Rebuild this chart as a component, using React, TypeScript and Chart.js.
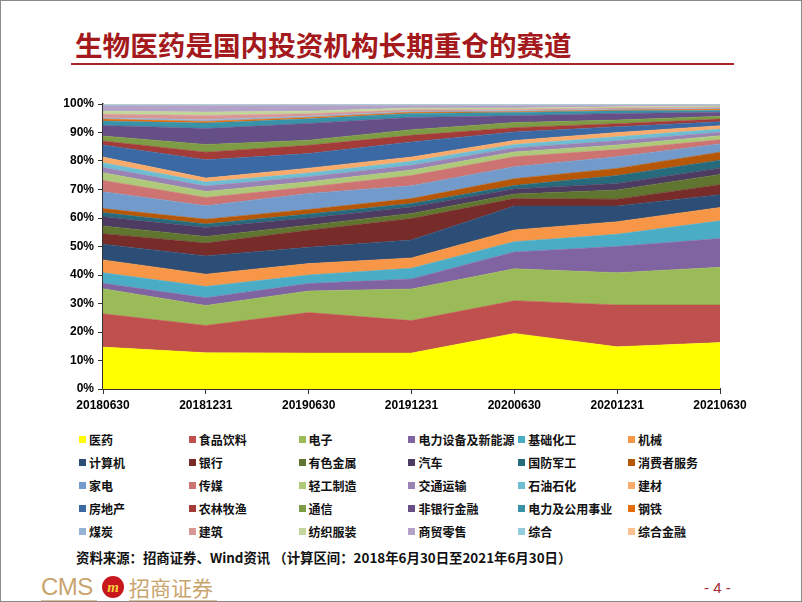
import React, { useEffect, useRef } from "react";
import { Chart, registerables } from "chart.js";

Chart.register(...registerables);

// Category labels (report dates)
const dates = ["20180630", "20181231", "20190630", "20191231", "20200630", "20201231", "20210630"];

// Share of holdings by industry (%), one array per industry, in stacking order
const yiyao = [14.7, 12.7, 12.6, 12.6, 19.5, 14.8, 16.3];
const shipinyinliao = [11.7, 9.6, 14.2, 11.4, 11.5, 14.7, 13.2];
const dianzi = [8.8, 7.0, 7.6, 11.1, 11.2, 11.3, 13.2];
const dianlishebei = [1.9, 2.7, 2.6, 3.5, 5.9, 9.2, 10.1];
const jichuhuagong = [3.7, 4.0, 3.0, 3.8, 3.6, 4.3, 6.2];
const jixie = [4.5, 4.3, 4.0, 3.6, 4.1, 4.4, 4.7];
const jisuanji = [5.5, 6.4, 5.7, 6.3, 8.4, 5.5, 4.5];
const yinhang = [3.7, 4.5, 6.0, 7.5, 2.6, 2.4, 3.5];
const youse = [2.7, 2.3, 1.8, 1.8, 1.6, 3.2, 3.6];
const qiche = [3.2, 3.2, 2.5, 2.3, 1.8, 2.3, 2.2];
const guofang = [1.5, 1.2, 1.4, 1.2, 1.2, 2.8, 2.8];
const xiaofeizhe = [1.4, 1.7, 1.6, 1.7, 2.4, 2.5, 2.8];
const jiadian = [5.9, 4.7, 5.6, 4.5, 4.2, 4.1, 2.9];
const chuanmei = [4.0, 2.9, 2.3, 3.6, 3.5, 2.5, 1.5];
const qinggong = [2.7, 2.1, 1.8, 1.9, 1.7, 1.6, 1.4];
const jiaotong = [1.8, 1.9, 1.8, 1.7, 1.4, 1.5, 1.2];
const shiyou = [1.7, 1.4, 1.3, 1.4, 1.2, 1.4, 1.1];
const jiancai = [2.0, 1.4, 1.7, 1.5, 1.4, 1.5, 1.2];
const fangdichan = [4.2, 6.4, 5.1, 5.3, 3.0, 2.0, 1.4];
const nonglin = [1.4, 2.7, 2.9, 2.3, 1.5, 1.1, 0.9];
const tongxin = [1.8, 2.7, 1.8, 2.0, 1.8, 1.3, 1.0];
const feiyin = [3.7, 5.6, 5.9, 4.3, 2.4, 2.3, 1.4];
const gongyong = [1.5, 1.9, 1.6, 1.4, 1.1, 0.9, 0.6];
const gangtie = [0.7, 0.6, 0.5, 0.4, 0.3, 0.3, 0.5];
const meitan = [0.5, 0.6, 0.5, 0.4, 0.4, 0.3, 0.4];
const jianzhu = [1.2, 1.5, 0.8, 0.5, 0.4, 0.4, 0.3];
const fangzhi = [1.1, 1.2, 0.9, 0.6, 0.5, 0.4, 0.4];
const shangmao = [2.0, 2.3, 2.1, 1.0, 0.9, 0.6, 0.3];
const zonghe = [0.3, 0.3, 0.2, 0.2, 0.3, 0.2, 0.2];
const zonghejinrong = [0.2, 0.2, 0.2, 0.2, 0.2, 0.2, 0.2];

const industryNames = [
  "医药", "食品饮料", "电子", "电力设备及新能源", "基础化工", "机械",
  "计算机", "银行", "有色金属", "汽车", "国防军工", "消费者服务",
  "家电", "传媒", "轻工制造", "交通运输", "石油石化", "建材",
  "房地产", "农林牧渔", "通信", "非银行金融", "电力及公用事业", "钢铁",
  "煤炭", "建筑", "纺织服装", "商贸零售", "综合", "综合金融",
];

const industryValues = [
  yiyao, shipinyinliao, dianzi, dianlishebei, jichuhuagong, jixie,
  jisuanji, yinhang, youse, qiche, guofang, xiaofeizhe,
  jiadian, chuanmei, qinggong, jiaotong, shiyou, jiancai,
  fangdichan, nonglin, tongxin, feiyin, gongyong, gangtie,
  meitan, jianzhu, fangzhi, shangmao, zonghe, zonghejinrong,
];

const palette = [
  "#FFFF00", "#C0504D", "#9BBB59", "#8064A2", "#4BACC6", "#F79646",
  "#2C4D75", "#772C2A", "#5F7530", "#4D3B62", "#276A7C", "#B65708",
  "#729ACA", "#CD7371", "#AFC97A", "#9983B5", "#6FBDD1", "#F9AB6B",
  "#3A69A3", "#A33B38", "#7E9B45", "#654F86", "#3892A8", "#E46C0A",
  "#95B3D7", "#D99694", "#C3D69B", "#B3A2C7", "#93CDDD", "#FAC090",
];

const yTicks = [0, 10, 20, 30, 40, 50, 60, 70, 80, 90, 100];

const tickFont = { family: "'Liberation Sans', Arial, sans-serif", size: 12, weight: "bold" as const };

export default function App() {
  const ref = useRef<HTMLCanvasElement | null>(null);

  useEffect(() => {
    document.body.style.margin = "0";
    document.body.style.overflow = "hidden";
    const datasets = industryNames.map((name, i) => ({
      label: name,
      data: industryValues[i],
      backgroundColor: palette[i],
      borderColor: palette[i],
      borderWidth: 0.5,
      pointRadius: 0,
      pointHoverRadius: 0,
      tension: 0,
      fill: i === 0 ? "origin" : "-1",
    }));
    const chart = new Chart(ref.current as HTMLCanvasElement, {
      type: "line",
      data: { labels: dates, datasets: datasets as any },
      options: {
        animation: false,
        responsive: false,
        devicePixelRatio: 1,
        layout: { padding: { top: 13, right: 41, left: 0, bottom: 0 } },
        plugins: { legend: { display: false }, tooltip: { enabled: false } },
        scales: {
          x: {
            offset: false,
            grid: { display: true, drawOnChartArea: false, tickLength: 5, color: "#333", offset: false },
            border: { display: true, color: "#333", width: 2 },
            ticks: { color: "#000", font: tickFont, padding: 4, maxRotation: 0, autoSkip: false },
            afterFit: (s: any) => { s.height = 32; },
          },
          y: {
            stacked: true,
            min: 0,
            max: 100,
            afterBuildTicks: (s: any) => { s.ticks = yTicks.map((v) => ({ value: v })); },
            grid: { display: true, drawOnChartArea: false, tickLength: 5, color: "#333" },
            border: { display: true, color: "#333", width: 1.5 },
            ticks: { color: "#000", font: tickFont, padding: 4, callback: (v: any) => v + "%" },
            afterFit: (s: any) => { s.width = 52; },
          },
        },
      },
    });
    return () => chart.destroy();
  }, []);

  const cjk = "'Noto Sans CJK SC', 'Noto Sans', sans-serif";

  return (
    <div
      style={{
        position: "absolute", left: 0, top: 0, width: 802, height: 602,
        boxSizing: "border-box", border: "1px solid #8a8a8a", background: "#fff", overflow: "hidden",
      }}
    >
      <div
        style={{
          position: "absolute", left: 74, top: 24, fontFamily: cjk, fontWeight: 700,
          fontSize: 27.6, lineHeight: "38px", color: "#A3191C", whiteSpace: "nowrap",
        }}
      >
        生物医药是国内投资机构长期重仓的赛道
      </div>
      <div style={{ position: "absolute", left: 70, top: 62, width: 663, height: 2, background: "#A8262A" }} />

      <canvas
        ref={ref}
        width={710}
        height={330}
        style={{ position: "absolute", left: 50, top: 90, width: 710, height: 330 }}
      />

      {industryNames.map((name, i) => {
        const row = Math.floor(i / 6);
        const col = i % 6;
        const x = 78 + col * 109.8;
        const y = 438 + row * 23.2;
        return (
          <div
            key={name}
            style={{
              position: "absolute", left: x, top: y - 9, height: 18, display: "flex",
              alignItems: "center", whiteSpace: "nowrap",
            }}
          >
            <span style={{ display: "inline-block", width: 7, height: 7, background: palette[i], marginRight: 3 }} />
            <span style={{ fontFamily: cjk, fontWeight: 700, fontSize: 12, color: "#111" }}>{name}</span>
          </div>
        );
      })}

      <div
        style={{
          position: "absolute", left: 75, top: 546, fontFamily: cjk, fontWeight: 700,
          fontSize: 13.4, lineHeight: "20px", color: "#111", whiteSpace: "nowrap",
        }}
      >
        资料来源：招商证券、Wind资讯 （计算区间：2018年6月30日至2021年6月30日）
      </div>

      <div
        style={{
          position: "absolute", left: 40, top: 571, fontFamily: "'Liberation Sans', Arial, sans-serif",
          fontSize: 24, lineHeight: "30px", color: "#C9A56E", letterSpacing: -0.5,
        }}
      >
        CMS
      </div>
      <div
        style={{
          position: "absolute", left: 101, top: 575, width: 22, height: 22, borderRadius: "50%",
          background: "#C8161D", color: "#F6D03C", fontFamily: "'Liberation Serif', serif",
          fontWeight: 700, fontStyle: "italic", fontSize: 15, lineHeight: "22px", textAlign: "center",
        }}
      >
        m
      </div>
      <div
        style={{
          position: "absolute", left: 128, top: 571, fontFamily: cjk, fontSize: 21,
          lineHeight: "30px", color: "#C9A56E", whiteSpace: "nowrap",
        }}
      >
        招商证券
      </div>
      <div style={{ position: "absolute", left: 40, top: 599, width: 56, height: 2, background: "#D8C29A" }} />
      <div style={{ position: "absolute", left: 128, top: 599, width: 88, height: 2, background: "#D8C29A" }} />
      <div
        style={{
          position: "absolute", left: 703, top: 577, fontFamily: "'Liberation Sans', Arial, sans-serif",
          fontSize: 15, lineHeight: "20px", color: "#A3282A", whiteSpace: "nowrap",
        }}
      >
        - 4 -
      </div>
    </div>
  );
}
